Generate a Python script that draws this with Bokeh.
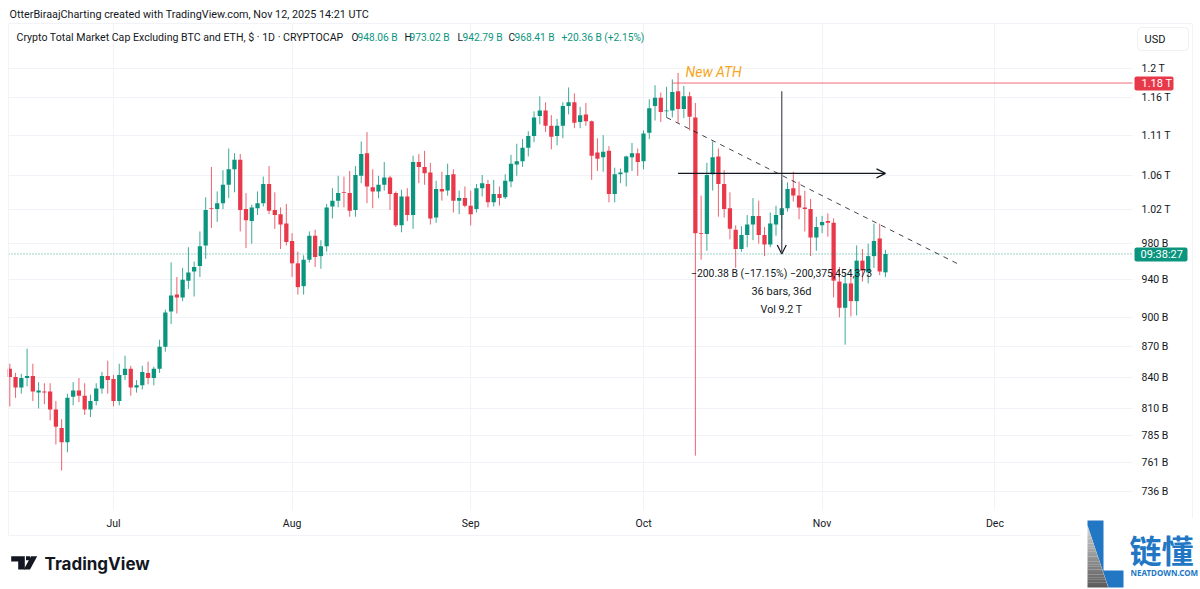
import math
import pandas as pd
from bokeh.embed import file_html
from bokeh.resources import INLINE
from bokeh.plotting import figure
from bokeh.models import (ColumnDataSource, FixedTicker, Range1d, Label, Arrow, OpenHead,
                          BoxAnnotation, PolyAnnotation)

# ---- data (USD billions) ----
opens = [848,840,830,839,841,825,826,826,809,792,
         779,821,827,822,809,817,829,841,838,817,
         842,848,830,832,844,839,848,870,906,924,
         921,939,949,955,978,1021,1020,1027,1049,1068,
         1080,1020,1006,1021,1027,1050,1019,1014,1003,983,
         958,933,962,989,966,977,1023,1030,1040,1039,
         1019,1060,1088,1046,1041,1049,1058,1039,1001,1035,
         1013,1077,1071,1064,1010,1044,1042,1062,1030,1033,
         1024,1020,1045,1050,1028,1038,1034,1053,1074,1078,
         1095,1110,1136,1143,1123,1110,1123,1149,1154,1128,
         1138,1129,1089,1083,1091,1038,1062,1064,1083,1088,
         1078,1114,1149,1160,1142,1143,1169,1145,1162,1134,
         992,991,1062,1084,1050,1021,996,974,990,1002,
         1012,990,979,1002,1013,1021,1045,1036,1022,1020,
         987,1001,1006,1004,938,910,936,917,961,948,
         966,986,948.06]
highs = [853,844,843,868,853,835,834,834,817,800,
         824,835,839,834,823,834,845,856,842,853,
         861,851,837,851,855,850,877,908,959,943,
         953,976,960,994,1034,1071,1041,1067,1094,1088,
         1087,1039,1025,1041,1059,1072,1040,1022,1026,992,
         971,967,994,996,984,1026,1045,1060,1059,1066,
         1072,1103,1115,1068,1060,1077,1060,1041,1043,1045,
         1085,1087,1091,1076,1054,1065,1075,1068,1042,1047,
         1042,1050,1061,1055,1055,1047,1062,1086,1100,1106,
         1116,1142,1162,1154,1137,1132,1154,1174,1166,1148,
         1153,1130,1107,1111,1097,1070,1069,1085,1101,1094,
         1117,1158,1177,1167,1175,1185,1194,1176,1168,1153,
         1036,1076,1103,1094,1067,1040,1001,1000,1013,1033,
         1030,999,1016,1024,1055,1052,1065,1053,1042,1032,
         1011,1012,1015,1009,954,947,945,978,974,980,
         1003,1003,973.02]
lows = [812,820,824,831,817,810,814,799,777,754,
        770,813,816,804,802,813,824,824,812,813,
        837,822,825,828,833,832,844,865,893,904,
        917,930,922,943,963,998,1005,1020,1033,1040,
        994,975,980,1013,1023,1014,997,974,978,943,
        924,924,959,954,952,971,1009,1022,1022,1011,
        1011,1051,1027,1021,1033,1042,1019,999,993,1006,
        997,1051,1049,1002,1004,1030,1036,1016,1014,1022,
        1001,1016,1035,1022,1023,1024,1032,1046,1060,1071,
        1084,1102,1125,1115,1093,1098,1107,1138,1120,1120,
        1123,1055,1066,1065,1028,1028,1051,1047,1066,1060,
        1068,1106,1130,1128,1134,1134,1127,1133,1117,767,
        962,972,1042,1011,1010,985,953,971,976,984,
        980,966,976,989,996,1017,1029,1008,994,966,
        972,992,988,921,900,872,901,902,938,936,
        953,945,942.79]
closes = [840,830,839,841,826,827,825,809,793,779,
          820,827,822,809,817,829,841,837,817,842,
          848,830,832,845,839,848,870,905,923,921,
          940,948,954,977,1019,1020,1027,1049,1068,1080,
          1019,1007,1022,1027,1050,1018,1013,1002,982,958,
          932,962,989,965,977,1022,1030,1039,1039,1018,
          1061,1087,1047,1041,1049,1058,1038,1001,1035,1013,
          1077,1071,1063,1009,1044,1041,1061,1030,1033,1024,
          1014,1045,1051,1028,1038,1033,1054,1075,1078,1095,
          1110,1134,1143,1123,1109,1123,1149,1154,1127,1137,
          1129,1085,1081,1090,1038,1062,1064,1084,1088,1077,
          1113,1146,1160,1141,1143,1168,1145,1162,1135,992,
          991,1061,1083,1050,1020,997,974,990,1002,1012,
          990,979,1003,1013,1021,1044,1036,1022,1020,987,
          999,1005,1004,939,910,936,917,961,950,966,
          983,949,968.41]
first_date = "2025-06-13"

y_ticks = [1200,1160,1110,1060,1020,980,940,900,870,840,810,785,761,736]
y_tick_labels = ["1.2 T","1.16 T","1.11 T","1.06 T","1.02 T","980 B","940 B","900 B","870 B","840 B","810 B","785 B","761 B","736 B"]
month_ticks = ["2025-07-01","2025-08-01","2025-09-01","2025-10-01","2025-11-01","2025-12-01"]
month_labels = ["Jul","Aug","Sep","Oct","Nov","Dec"]

ath_level = 1180
last_close = 968.41
trend_dates = ["2025-10-05","2025-11-25"]
trend_values = [1134,956]

# ---- styling ----
GREEN, RED, INK = "#0B957E", "#E8394B", "#131722"
GRID = "#F1F3F8"
FONT = "Roboto"
WIDTH, HEIGHT = 1200, 589
FL, FR, FT, FB = 8, 1132, 23, 510      # chart pane edges in window pixels
PX_PER_DAY = 5.761
X0 = 9.3                               # window x of first candle
PX_PER_LOG = 865.0
Y1200 = 68.0                           # window y of the 1.2 T level

def ms(d):
    return pd.Timestamp(d).value / 1e6

DAY = 86400000.0
def x_at(X):
    return ms(first_date) + (X - X0) / PX_PER_DAY * DAY
def y_at(Y):
    return 1200 * math.exp((Y1200 - Y) / PX_PER_LOG)

dates = pd.date_range(first_date, periods=len(opens))
df = pd.DataFrame({"date": dates, "o": opens, "h": highs, "l": lows, "c": closes})
df["top"] = df[["o", "c"]].max(axis=1)
df["bottom"] = df[["o", "c"]].min(axis=1)
df["color"] = [GREEN if c >= o else RED for o, c in zip(df.o, df.c)]
src = ColumnDataSource(df)

p = figure(width=WIDTH, height=HEIGHT, output_backend="svg", toolbar_location=None,
           x_axis_type="datetime", y_axis_type="log", y_axis_location="right",
           x_range=Range1d(x_at(0), x_at(WIDTH)), y_range=Range1d(y_at(HEIGHT), y_at(0)),
           min_border=0, background_fill_color="white", border_fill_color="white", outline_line_color=None)

# axes, pinned at the pane edges
p.yaxis.fixed_location = x_at(FR)
p.xaxis.fixed_location = y_at(FB)
p.yaxis.ticker = FixedTicker(ticks=y_ticks)
p.yaxis.major_label_overrides = dict(zip(y_ticks, y_tick_labels))
p.ygrid.ticker = FixedTicker(ticks=y_ticks)
month_ms = [ms(d) for d in month_ticks]
p.xaxis.ticker = FixedTicker(ticks=month_ms)
p.xaxis.major_label_overrides = dict(zip(month_ms, month_labels))
p.xgrid.ticker = FixedTicker(ticks=month_ms)
for ax in (p.xaxis, p.yaxis):
    ax.axis_line_color = None
    ax.major_tick_line_color = None
    ax.minor_tick_line_color = None
    ax.major_tick_out = 0
    ax.major_tick_in = 0
    ax.major_label_text_font = FONT
    ax.major_label_text_font_size = "10.5px"
    ax.major_label_text_color = INK
p.yaxis.major_label_standoff = 9
p.xaxis.major_label_standoff = 6
p.xgrid.grid_line_color = GRID
p.ygrid.grid_line_color = GRID

def box(l, r, t, b, fill=None, line=None, radius=0, level="annotation"):
    p.add_layout(BoxAnnotation(left=l, right=r, top=t, bottom=b, left_units="canvas", right_units="canvas",
                               top_units="canvas", bottom_units="canvas", fill_color=fill, fill_alpha=1 if fill else 0,
                               line_color=line, line_width=1, line_alpha=1 if line else 0, border_radius=radius,
                               level=level, editable=False))

# keep the grid inside the chart pane
box(-2, WIDTH + 2, -2, FT, fill="white", level="underlay")
box(-2, WIDTH + 2, FB, HEIGHT + 2, fill="white", level="underlay")
box(-2, FL, -2, HEIGHT + 2, fill="white", level="underlay")
box(FR, WIDTH + 2, -2, HEIGHT + 2, fill="white", level="underlay")

# candles
p.segment("date", "h", "date", "l", source=src, line_color="color", line_width=1, line_alpha=0.8)
p.vbar(x="date", top="top", bottom="bottom", width=0.74 * DAY, source=src,
       fill_color="color", line_color="color", line_width=0)

# drawings
edge_l, edge_r = pd.Timestamp(x_at(FL), unit="ms"), pd.Timestamp(x_at(FR), unit="ms")
p.line([dates[115], edge_r], [ath_level, ath_level], line_color=RED, line_width=1, line_alpha=0.75)
p.line([edge_l, edge_r], [last_close, last_close], line_color=GREEN, line_dash=[1, 2], line_width=1, line_alpha=0.8)
p.line([pd.Timestamp(d) for d in trend_dates], trend_values, line_color=INK, line_width=1, line_dash=[5, 5], line_alpha=0.8)

measure_x = ms("2025-10-25")
p.add_layout(Arrow(end=OpenHead(size=9, line_color=INK, line_width=1.2), x_start=measure_x, x_end=measure_x,
                   y_start=1169, y_end=968.33, line_color="#4a4d55", line_width=1.2))
p.add_layout(Arrow(end=OpenHead(size=9, line_color=INK, line_width=1.2), x_start=ms("2025-10-07"), x_end=ms("2025-11-12"),
                   y_start=1063, y_end=1063, line_color=INK, line_width=1.2))

def text(s, X, Y, size="11px", color=INK, align="left", style="normal", font=FONT, baseline="middle"):
    """Text placed at window pixel (X, Y)."""
    p.add_layout(Label(x=X, y=Y, x_units="canvas", y_units="canvas", text=s, text_font=font,
                       text_font_size=size, text_color=color, text_align=align, text_baseline=baseline,
                       text_font_style=style))

def poly(pts, color):
    p.add_layout(PolyAnnotation(xs=[a for a, _ in pts], ys=[b for _, b in pts], xs_units="canvas", ys_units="canvas",
                                fill_color=color, fill_alpha=1, line_color=color, line_alpha=1, line_width=0))

# outer panel border
box(8, 1192, 23, 535, line=GRID)

# measure labels
text("\u2212200.38 B (\u221217.15%) \u2212200,375,454,373", 781, 273, size="10.4px", align="center")
text("36 bars, 36d", 781, 291, align="center")
text("Vol 9.2 T", 781, 309, size="10.7px", align="center")
text("New ATH", 685, 71, size="14px", color="#F5A623", style="italic")

# price tags
box(1134, 1173, 76, 90, fill=RED, radius=2)
text("1.18 T", 1141, 83, color="white")
box(1134, 1187, 247, 261, fill=GREEN, radius=2)
text("09:38:27", 1140, 254, color="white", size="11px")
box(1137, 1188, 27, 50, fill="white", line="#EEF0F4", radius=4)
text("USD", 1144, 39)

# header
text("OtterBiraajCharting created with TradingView.com, Nov 12, 2025 14:21 UTC", 9, 14, size="10.8px")
text("Crypto Total Market Cap Excluding BTC and ETH, $ \u00b7 1D \u00b7 CRYPTOCAP", 16, 37, size="10.6px")
for letter, lx, value, vx in [("O", 351, "948.06 B", 357), ("H", 404, "973.02 B", 409),
                              ("L", 457, "942.79 B", 462), ("C", 508, "968.41 B", 514)]:
    text(letter, lx, 37, size="10.2px")
    text(value, vx, 37, color=GREEN, size="10.2px")
text("+20.36 B (+2.15%)", 561, 37, color=GREEN, size="10.2px")

# TradingView mark
LOGO = "#131722"
poly([(10.7, 555.7), (24.3, 555.7), (24.3, 569), (17.7, 569), (17.7, 561), (10.7, 561)], LOGO)
poly([(36.7, 555.7), (29.5, 569), (23.3, 569), (30.5, 555.7)], LOGO)
poly([(25.5, 555.7), (29.5, 555.7), (29.5, 559.7), (25.5, 559.7)], LOGO)
text("TradingView", 44, 563, size="17px", font="Inter", style="bold")

# Neatdown logo (white panel, blue L, grey wedge)
box(1080, 1202, 518, 591, fill="white")
poly([(1087, 520), (1103, 520), (1103, 570), (1123, 570), (1123, 587), (1108, 587), (1087, 525)], "#2277C4")
STRIPS = 24
for k in range(STRIPS):
    y0, y1 = 525 + k * 62 / STRIPS, 525 + (k + 1) * 62 / STRIPS
    x0, x1 = 1087 + (y0 - 525) / 3, 1087 + (y1 - 525) / 3
    g = round(208 - (208 - 92) * k / (STRIPS - 1))
    poly([(1087, y0), (x0, y0), (x1, y1), (1087, y1)], f"#{g:02x}{g:02x}{g:02x}")
text("\u94fe\u61c2", 1129, 548, size="32px", color="#2277C4", font="Noto Sans CJK SC", style="bold")
text("NEATDOWN.COM", 1130, 572, size="8px", color="#2277C4", font="Noto Sans", style="bold")

open("out.html", "w").write(file_html(p, INLINE))
